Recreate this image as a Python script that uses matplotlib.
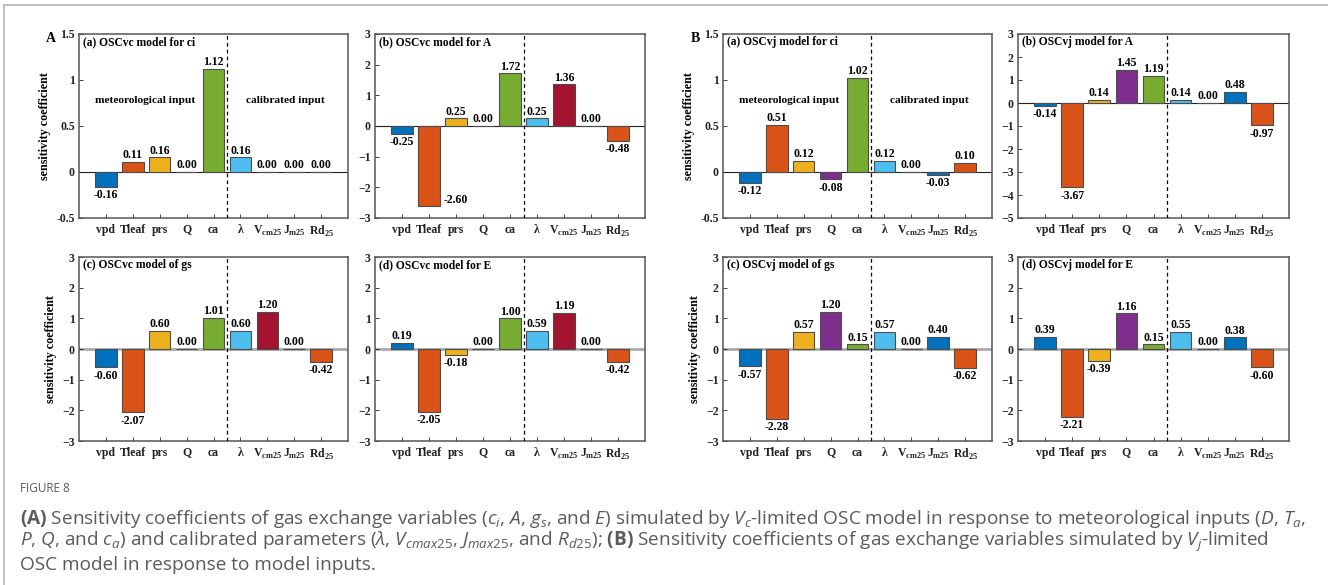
import matplotlib
matplotlib.use("Agg")
import matplotlib.pyplot as plt
from matplotlib.lines import Line2D

# ---------------- data ----------------
categories = ["vpd", "Tleaf", "prs", "Q", "ca", "λ",
              r"V$_\mathregular{cm25}$", r"J$_\mathregular{m25}$", r"Rd$_\mathregular{25}$"]
bar_colors = ["#0072BD", "#D95319", "#EDB120", "#7E2F8E", "#77AC30",
              "#4DBEEE", "#A2142F", "#0072BD", "#D95319"]

vc_ci = [-0.16, 0.11, 0.16, 0.00, 1.12, 0.16, 0.00, 0.00, 0.00]
vc_A  = [-0.25, -2.60, 0.25, 0.00, 1.72, 0.25, 1.36, 0.00, -0.48]
vc_gs = [-0.60, -2.07, 0.60, 0.00, 1.01, 0.60, 1.20, 0.00, -0.42]
vc_E  = [0.19, -2.05, -0.18, 0.00, 1.00, 0.59, 1.19, 0.00, -0.42]
vj_ci = [-0.12, 0.51, 0.12, -0.08, 1.02, 0.12, 0.00, -0.03, 0.10]
vj_A  = [-0.14, -3.67, 0.14, 1.45, 1.19, 0.14, 0.00, 0.48, -0.97]
vj_gs = [-0.57, -2.28, 0.57, 1.20, 0.15, 0.57, 0.00, 0.40, -0.62]
vj_E  = [0.39, -2.21, -0.39, 1.16, 0.15, 0.55, 0.00, 0.38, -0.60]

titles = ["(a) OSCvc model for ci", "(b) OSCvc model for A",
          "(c) OSCvc model of gs", "(d) OSCvc model for E",
          "(a) OSCvj model for ci", "(b) OSCvj model for A",
          "(c) OSCvj model of gs", "(d) OSCvj model for E"]
ylims = [(-0.5, 1.5), (-3, 3), (-3, 3), (-3, 3),
         (-0.5, 1.5), (-5, 3), (-3, 3), (-3, 3)]
yticks = [[-0.5, 0, 0.5, 1, 1.5], [-3, -2, -1, 0, 1, 2, 3],
          [-3, -2, -1, 0, 1, 2, 3], [-3, -2, -1, 0, 1, 2, 3],
          [-0.5, 0, 0.5, 1, 1.5], [-5, -4, -3, -2, -1, 0, 1, 2, 3],
          [-3, -2, -1, 0, 1, 2, 3], [-3, -2, -1, 0, 1, 2, 3]]
ytick_labels = [["-0.5", "0", "0.5", "1", "1.5"]] + [None] * 3 + \
               [["-0.5", "0", "0.5", "1", "1.5"]] + [None] * 3
series = [vc_ci, vc_A, vc_gs, vc_E, vj_ci, vj_A, vj_gs, vj_E]

caption_head = "FIGURE 8"
caption_lines = [
    r"$\mathbf{(A)}$ Sensitivity coefficients of gas exchange variables ($c_i$, $A$, $g_s$, and $E$) simulated by $V_c$-limited OSC model in response to meteorological inputs ($D$, $T_a$,",
    r"$P$, $Q$, and $c_a$) and calibrated parameters ($\lambda$, $V_{cmax25}$, $J_{max25}$, and $R_{d25}$); $\mathbf{(B)}$ Sensitivity coefficients of gas exchange variables simulated by $V_j$-limited",
    r"OSC model in response to model inputs.",
]

# ---------------- style ----------------
cap_font = "Open Sans"
plt.rcParams["font.family"] = ["Liberation Serif", "DejaVu Serif"]
plt.rcParams["mathtext.fontset"] = "custom"
plt.rcParams["mathtext.rm"] = cap_font + ":normal"
plt.rcParams["mathtext.it"] = cap_font + ":italic:normal"
plt.rcParams["mathtext.bf"] = cap_font + ":bold"

W, H = 1328, 585
fig = plt.figure(figsize=(W / 100, H / 100), dpi=100)

cols_px = [(79, 348), (375, 645), (723, 992), (1018, 1289)]
rows_px = [(34, 218), (257, 441)]
layout = [(0, 0), (0, 1), (1, 0), (1, 1), (0, 2), (0, 3), (1, 2), (1, 3)]

spine_col = "#555555"
x = list(range(1, len(categories) + 1))

for i, vals in enumerate(series):
    r, c = layout[i]
    x0, x1 = cols_px[c]
    y0, y1 = rows_px[r]
    ax = fig.add_axes([x0 / W, 1 - y1 / H, (x1 - x0) / W, (y1 - y0) / H])
    ax.set_xlim(0, 10)
    ax.set_ylim(*ylims[i])
    zero_kw = dict(color="#222222", lw=0.8) if r == 0 else dict(color="#aaaaaa", lw=2.0)
    ax.axhline(0, zorder=1, **zero_kw)
    ax.bar(x, vals, width=0.8, color=bar_colors, edgecolor="#4d4d4d",
           linewidth=0.8, zorder=2)
    ax.axvline(5.5, color="black", lw=0.9, ls=(0, (3, 2.5)), zorder=3)
    ax.set_xticks(x)
    ax.set_xticklabels(categories, fontsize=8.5, fontweight="bold")
    ax.set_yticks(yticks[i])
    if ytick_labels[i] is not None:
        ax.set_yticklabels(ytick_labels[i])
    for lab in ax.get_yticklabels():
        lab.set_fontweight("bold")
    ax.tick_params(axis="both", direction="in", length=3, width=0.6,
                   labelsize=8.5, colors="#222222", pad=3)
    ax.tick_params(axis="x", pad=4)
    for s in ax.spines.values():
        s.set_color(spine_col)
        s.set_linewidth(1.1)
    span = ylims[i][1] - ylims[i][0]
    for k, v in enumerate(vals):
        label = f"{v:.2f}"
        if i == 1 and k == 1:
            ax.text(x[k] + 1.0, v + 0.2, label, ha="center", va="center",
                    fontsize=8.5, fontweight="bold", zorder=4)
        elif v < 0:
            ax.text(x[k], v - span * 0.012, label, ha="center", va="top",
                    fontsize=8.5, fontweight="bold", zorder=4)
        else:
            ax.text(x[k], v + span * 0.004, label, ha="center", va="bottom",
                    fontsize=8.5, fontweight="bold", zorder=4)
    ax.text(0.015, 0.955, titles[i], transform=ax.transAxes, ha="left",
            va="center", fontsize=8.3, fontweight="bold")
    if c in (0, 2):
        ax.set_ylabel("sensitivity coefficient", fontsize=8.7,
                      fontweight="bold", labelpad=4)
    if r == 0 and c in (0, 2):
        ax.text(2.45, 0.78, "meteorological input", ha="center", va="center",
                fontsize=8.2, fontweight="bold")
        ax.text(7.66, 0.78, "calibrated input", ha="center", va="center",
                fontsize=8.2, fontweight="bold")

fig.text(51 / W, 1 - 38 / H, "A", fontsize=10, fontweight="bold",
         ha="center", va="center")
fig.text(695 / W, 1 - 38 / H, "B", fontsize=10, fontweight="bold",
         ha="center", va="center")

# frame lines
fig.add_artist(Line2D([4 / W, 1], [1 - 5 / H, 1 - 5 / H], color="#b5b5b5",
                      lw=1.2, transform=fig.transFigure))
fig.add_artist(Line2D([4 / W, 4 / W], [0, 1 - 5 / H], color="#b5b5b5",
                      lw=1.2, transform=fig.transFigure))

# caption
cap_col = "#5a5a5a"
fig.text(20 / W, 1 - 488 / H, caption_head, fontsize=8.5, family=cap_font,
         fontweight="normal", color=cap_col, ha="left", va="center")
cap_texts = []
for j, t in enumerate(caption_lines):
    cap_texts.append(fig.text(20 / W, 1 - (519 + 23 * j) / H, t, fontsize=10,
                              family=cap_font, fontweight="normal",
                              color=cap_col, ha="left", va="center"))
# fit caption width to target line length
fig.canvas.draw()
rend = fig.canvas.get_renderer()
w1 = cap_texts[0].get_window_extent(rend).width
size = 10 * (1306 - 20) / w1
for t in cap_texts:
    t.set_fontsize(size)

fig.savefig("out.png", dpi=100)
